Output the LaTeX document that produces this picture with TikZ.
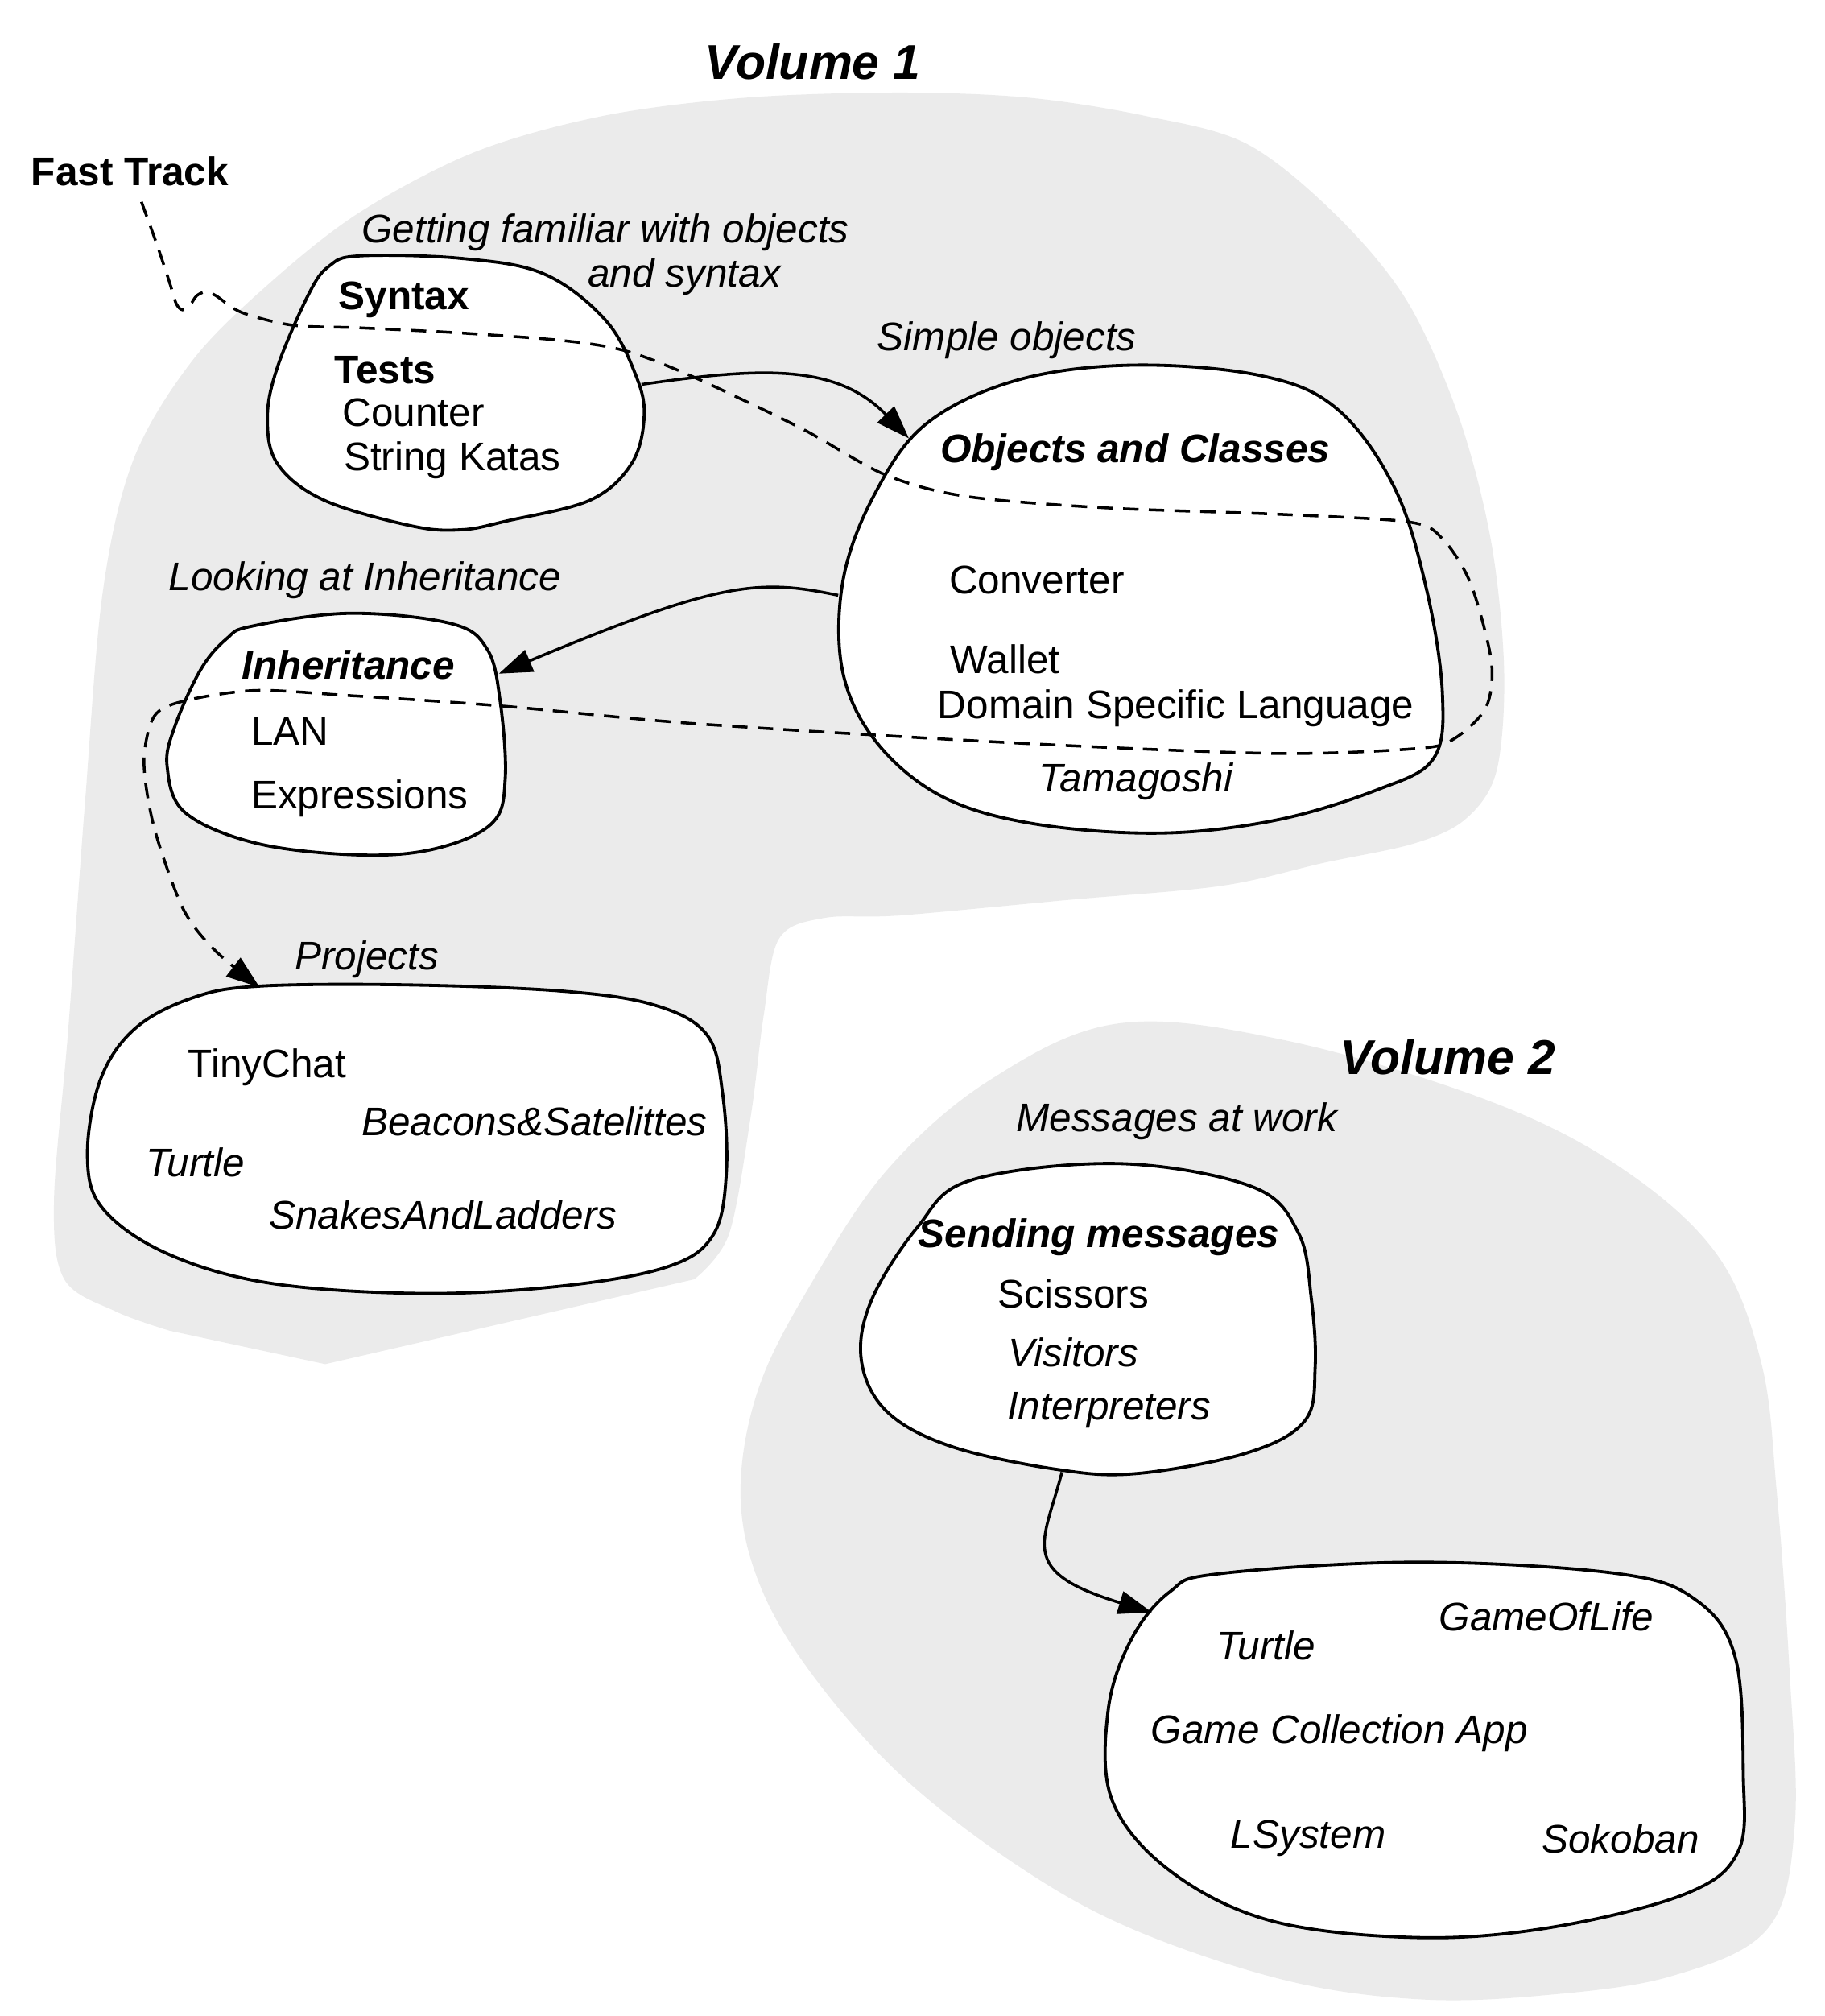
\documentclass[tikz,border=0pt]{standalone}
\usepackage{fontspec}
\setmainfont{Liberation Sans}
\usetikzlibrary{arrows.meta}
\definecolor{vgrey}{HTML}{EBEBEB}
\begin{document}
\begin{tikzpicture}[x=0.5pt,y=-0.5pt,
  blob/.style={draw=black, fill=white, line width=1.2pt},
  region/.style={fill=vgrey, draw=none},
  txt/.style={anchor=west, inner sep=0pt, font=\fontsize{15.5}{18}\selectfont},
  txtit/.style={anchor=west, inner sep=0pt, font=\fontsize{15.5}{18}\selectfont\itshape},
  txtbf/.style={anchor=west, inner sep=0pt, font=\fontsize{15.5}{18}\selectfont\bfseries},
  txtbfit/.style={anchor=west, inner sep=0pt, font=\fontsize{15.5}{18}\selectfont\bfseries\itshape},
  voltitle/.style={anchor=west, inner sep=0pt, font=\fontsize{19}{22}\selectfont\bfseries\itshape},
  conn/.style={line width=1.1pt, -{Triangle[length=13pt,width=9pt]}},
  fasttrack/.style={line width=1.1pt, dash pattern=on 6pt off 4pt, -{Triangle[length=13pt,width=9pt]}}
]
\useasboundingbox (0,0) rectangle (1419,1568);

% ---------- grey regions ----------
\fill[region] plot[smooth, tension=0.55] coordinates {
  (540,995) (567,960) (584,868) (594,790) (606,730) (641,714) (700,712) (830,700)
  (950,689) (1030,671) (1100,656) (1140,637) (1164,600) (1170,522) (1160,422) (1135,325)
  (1095,235) (1040,168) (970,112) (890,90) (800,76) (700,72) (580,76) (470,90) (370,118)
  (280,165) (210,220) (150,280) (104,357) (80,460) (66,626) (53,802) (42,934)
  (50,995) (90,1020) (132,1035)}
  -- (253,1061) -- cycle;

\fill[region] plot[smooth cycle, tension=0.6] coordinates {
  (870,796) (999,809) (1155,855) (1259,907) (1335,975) (1370,1060) (1382,1160)
  (1392,1300) (1396,1420) (1375,1500) (1300,1537) (1200,1552) (1103,1555) (999,1540)
  (880,1500) (790,1450) (700,1380) (630,1300) (590,1230) (576,1160) (590,1080) (630,1000)
  (690,910) (770,840)};

% ---------- blobs ----------
\draw[blob] plot[smooth cycle, tension=0.6] coordinates {
  (280,199) (359,201) (423,213) (471,249) (495,293) (501,325) (491,361) (459,389) (395,405)
  (359,412) (320,409) (252,389) (216,361) (208,325) (216,285) (240,229) (256,207)};

\draw[blob] plot[smooth cycle, tension=0.6] coordinates {
  (880,284) (980,292) (1040,318) (1085,380) (1110,460) (1122,540) (1115,590) (1072,614)
  (992,638) (900,648) (800,640) (730,618) (680,575) (655,520) (656,450) (680,385) (720,330) (790,296)};

\draw[blob] plot[smooth cycle, tension=0.6] coordinates {
  (196,487) (272,477) (351,485) (379,505) (389,545) (393,605) (383,640) (339,660) (280,665)
  (200,656) (144,632) (130,596) (136,565) (156,521) (176,497)};

\draw[blob] plot[smooth cycle, tension=0.6] coordinates {
  (202,767) (316,766) (439,771) (510,782) (550,805) (562,850) (565,912) (555,960) (520,985)
  (439,1000) (329,1006) (210,998) (130,975) (80,940) (68,899) (78,840) (105,800) (150,776)};

\draw[blob] plot[smooth cycle, tension=0.6] coordinates {
  (755,918) (870,905) (974,923) (1010,959) (1020,1010) (1023,1063) (1015,1105) (970,1130)
  (885,1146) (823,1143) (740,1125) (690,1098) (670,1058) (678,1011) (714,954)};

\draw[blob] plot[smooth cycle, tension=0.6] coordinates {
  (948,1224) (1103,1215) (1259,1224) (1320,1245) (1350,1290) (1356,1380) (1352,1440)
  (1311,1473) (1207,1499) (1103,1507) (989,1494) (910,1455) (865,1400) (862,1330) (880,1275) (910,1238)};

% ---------- titles and labels ----------
\node[voltitle] (v1) at (548,48) {Volume 1};
\node[voltitle] (v2) at (1042,822) {Volume 2};
\node[txtbf] (ft) at (24,133) {Fast Track};

\node[txtit] (gf1) at (281,181) {Getting familiar with objects};
\node[txtit] (gf2) at (457,215) {and syntax};
\node[txtbf] (syn) at (263,233) {Syntax};
\node[txtbf] (tst) at (260,288) {Tests};
\node[txt] (cnt) at (266,321) {Counter};
\node[txt] (sk) at (267,358) {String Katas};

\node[txtit] (so) at (682,265) {Simple objects};
\node[txtbfit] (oc) at (731,352) {Objects and Classes};
\node[txt] (cv) at (738,451) {Converter};
\node[txt] (wl) at (739,513) {Wallet};
\node[txt] (dsl) at (729,551) {Domain Specific Language};
\node[txtit] (tm) at (808,608) {Tamagoshi};

\node[txtit] (lai) at (131,451) {Looking at Inheritance};
\node[txtbfit] (inh) at (188,517) {Inheritance};
\node[txt] (lan) at (195,569) {LAN};
\node[txt] (exp) at (195,621) {Expressions};

\node[txtit] (prj) at (229,746) {Projects};
\node[txt] (tc) at (146,830) {TinyChat};
\node[txtit] (bs) at (281,872) {Beacons\&Satelittes};
\node[txtit] (tu1) at (113,904) {Turtle};
\node[txtit] (sl) at (209,945) {SnakesAndLadders};

\node[txtit] (maw) at (790,872) {Messages at work};
\node[txtbfit] (sm) at (714,962) {Sending messages};
\node[txt] (sc) at (776,1006) {Scissors};
\node[txtit] (vi) at (784,1052) {Visitors};
\node[txtit] (ip) at (783,1097) {Interpreters};

\node[txtit] (gol) at (1119,1257) {GameOfLife};
\node[txtit] (tu2) at (946,1280) {Turtle};
\node[txtit] (gca) at (895,1348) {Game Collection App};
\node[txtit] (ls) at (957,1430) {LSystem};
\node[txtit] (sb) at (1199,1430) {Sokoban};

% ---------- connector endpoints ----------
\coordinate (synE) at (499,299);
\coordinate (ocNW) at (707,341);
\coordinate (ocW) at (652,463);
\coordinate (inhNE) at (388,524);
\coordinate (smS) at (826,1145);
\coordinate (gNW) at (896,1254);
\coordinate (ftS) at (110,157);
\coordinate (prjN) at (202,768);

% ---------- connectors ----------
\draw[conn] (synE) .. controls (590,286) and (650,282) .. (ocNW);
\draw[conn] (ocW) .. controls (590,450) and (560,452) .. (inhNE);
\draw[conn] (smS) .. controls (812,1200) and (790,1222) .. (gNW);

\draw[fasttrack] plot[smooth, tension=0.5] coordinates {
  (ftS) (122,190) (132,220) (137,236) (142,241) (148,237) (153,230) (160,227) (168,230)
  (188,243) (228,253) (280,255) (359,259) (439,265) (487,273) (539,293) (623,333) (688,369)
  (751,386) (860,395) (995,400) (1096,406) (1122,419) (1144,454) (1160,514) (1156,550)
  (1132,574) (1104,582) (992,586) (793,578) (543,563) (389,549) (272,541) (199,537)
  (144,545) (120,557) (112,593) (120,644) (142,706) (166,738) (prjN)};
\end{tikzpicture}
\end{document}
